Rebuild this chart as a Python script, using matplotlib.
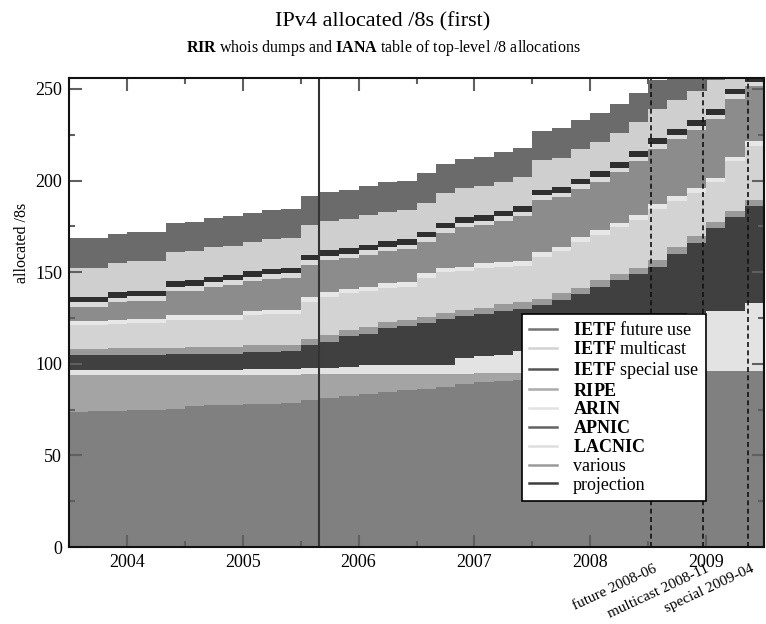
import numpy as np
import matplotlib
matplotlib.use("Agg")
import matplotlib.pyplot as plt
from matplotlib.lines import Line2D
from matplotlib.ticker import MultipleLocator

plt.rcParams['font.family'] = ['Liberation Serif', 'DejaVu Serif']
plt.rcParams['mathtext.fontset'] = 'custom'
plt.rcParams['mathtext.rm'] = 'Liberation Serif'
plt.rcParams['mathtext.bf'] = 'Liberation Serif:bold'

# ---- data (number of /8 blocks per band, bi-monthly steps) ----
months = ["2003-07", "2003-09", "2003-11",
          "2004-01", "2004-03", "2004-05", "2004-07", "2004-09", "2004-11",
          "2005-01", "2005-03", "2005-05", "2005-07", "2005-09", "2005-11",
          "2006-01", "2006-03", "2006-05", "2006-07", "2006-09", "2006-11",
          "2007-01", "2007-03", "2007-05", "2007-07", "2007-09", "2007-11",
          "2008-01", "2008-03", "2008-05", "2008-07", "2008-09", "2008-11",
          "2009-01", "2009-03", "2009-05", "2009-07"]

various = [73.7, 74, 74.3, 74.6, 75, 75.5, 77, 77.3, 77.6, 78, 78.3, 78.8, 80, 81.5,
           82.5, 83.5, 84.5, 85.5, 86.5, 87.5, 89, 90, 90.5, 91, 91.5, 92, 92.5, 93,
           93.5, 94, 94.5, 95, 95.5, 96, 96, 96, 96]
band_b = [20.3, 20, 19.7, 19.4, 19, 18.5, 17, 16.7, 16.4, 16, 15.7, 15.2, 14.5, 13,
          12, 11, 10, 9, 8, 7, 5.5, 5, 4.5, 4, 3.5, 3, 2.5, 2, 1.5, 1, 0.5, 0.5, 0,
          0, 0, 0, 0]
band_c = [2.6, 2.6, 2.8, 2.8, 2.8, 2.8, 2.8, 2.8, 2.8, 3, 3, 3, 3, 3.2, 4, 5, 5, 5,
          5, 5, 8.5, 9, 10, 12, 14, 16, 18, 20, 22, 25, 28, 30.5, 32.5, 33, 33, 37, 37]
band_d = [8.2, 8.2, 8.2, 8.2, 8.2, 8.4, 8.6, 8.7, 8.8, 9.5, 9.5, 10, 12.5, 14.3, 16.5,
          17, 20, 21, 22.5, 25, 23, 23, 24, 23, 23, 24, 25, 27, 28.5, 29, 30, 34, 38,
          45, 51, 53, 56]
band_e = 3.5
band_f = [12.7, 12.7, 13, 13.5, 13.5, 15.3, 15.1, 15, 14.9, 16.5, 17, 16.5, 20.5, 21,
          20, 19.5, 18.5, 18, 21.5, 22, 21, 22, 20.5, 20, 23, 23, 25, 25, 25.5, 26, 28,
          25.5, 24, 21.5, 27, 29.5, 32]
band_g = 2.5
band_h = [7.5, 7.5, 9.5, 10, 10, 13, 13.5, 15.5, 16.5, 16, 17, 17.5, 17.5, 17.5, 16.5,
          17.5, 17.5, 18, 17, 19, 21.5, 20.5, 22.5, 24.5, 28.5, 27, 26.5, 26.5, 27.5,
          29.5, 30.5, 31, 31.5, 32, 31.5, 30, 31.5]
band_i = 2.5
ietf_special = 3
ietf_multicast = 16
ietf_future = 16

band_colors = ['#808080', '#a4a4a4', '#e3e3e3', '#404040', '#9a9a9a', '#d3d3d3',
               '#e7e7e7', '#8c8c8c', '#dadada', '#2f2f2f', '#cfcfcf', '#6b6b6b']

data_line = 2005.66
exhaust_dates = [2008.525, 2008.974, 2009.362]
exhaust_labels = ["future 2008-06", "multicast 2008-11", "special 2009-04"]

year_ticks = [2004, 2005, 2006, 2007, 2008, 2009]

legend_labels = [r"$\mathbf{IETF}$ future use", r"$\mathbf{IETF}$ multicast",
                 r"$\mathbf{IETF}$ special use", r"$\mathbf{RIPE}$", r"$\mathbf{ARIN}$",
                 r"$\mathbf{APNIC}$", r"$\mathbf{LACNIC}$", "various", "projection"]
legend_colors = ['#737373', '#d2d2d2', '#555555', '#ababab', '#e2e2e2', '#636363',
                 '#dedede', '#9a9a9a', '#3e3e3e']

# ---- build ----
t = np.array([int(m[:4]) + (int(m[5:]) - 1) / 12 for m in months])
layers = [various, band_b, band_c, band_d, band_e, band_f, band_g, band_h, band_i,
          ietf_special, ietf_multicast, ietf_future]
stack = np.cumsum([np.broadcast_to(np.asarray(l, float), t.shape) for l in layers], axis=0)

fig = plt.figure(figsize=(7.66, 6.24), dpi=100)
ax = fig.add_axes([69 / 766, 77 / 624, 695 / 766, 469 / 624])

for top, col in reversed(list(zip(stack, band_colors))):
    ax.fill_between(t, 0, top, step='post', facecolor=col, edgecolor='none',
                    linewidth=0, zorder=1)

ax.axvline(data_line, color='#333333', lw=1.5, zorder=3)
for d in exhaust_dates:
    ax.axvline(d, color='#111111', lw=1.2, ls=(0, (3, 2)), zorder=3)

ax.set_xlim(2003.5, 2009.5)
ax.set_ylim(0, 256)
ax.set_xticks(year_ticks)
ax.set_xticklabels([str(y) for y in year_ticks])
ax.xaxis.set_minor_locator(MultipleLocator(0.5))
ax.yaxis.set_major_locator(MultipleLocator(50))
ax.yaxis.set_minor_locator(MultipleLocator(25))
ax.tick_params(which='both', direction='in', top=True, right=True, color='#606060',
               width=1.5, labelsize=13, pad=5)
ax.tick_params(which='major', length=9)
ax.tick_params(which='minor', length=4.5)
for s in ax.spines.values():
    s.set_linewidth(1.5)
    s.set_color('#111111')
    s.set_zorder(4)

for d, lab in zip(exhaust_dates, exhaust_labels):
    ax.annotate(lab, xy=(d, 0), xycoords=('data', 'axes fraction'),
                xytext=(1.5, -11), textcoords='offset points', rotation=25,
                rotation_mode='anchor', ha='right', va='top', fontsize=11)

handles = [Line2D([], [], color=c, lw=1.8) for c in legend_colors]
leg = ax.legend(handles, legend_labels, loc='upper left',
                bbox_to_anchor=((522 - 69) / 695, (546 - 313) / 469),
                fontsize=13, frameon=True, fancybox=False, framealpha=1,
                edgecolor='black', handlelength=1.55, handletextpad=0.85,
                labelspacing=0.1, borderpad=0.4, borderaxespad=0)
leg.get_frame().set_linewidth(1.2)
leg.set_zorder(6)

fig.text(0.5, 1 - 22 / 624, "IPv4 allocated /8s (first)", ha='center', va='center',
         fontsize=16)
fig.text(0.5, 1 - 48 / 624,
         r"$\mathbf{RIR}$ whois dumps and $\mathbf{IANA}$ table of top-level /8 allocations",
         ha='center', va='center', fontsize=11.5)
fig.text(22 / 766, 1 - 243 / 624, "allocated /8s", rotation=90, ha='center',
         va='center', fontsize=11.5)

fig.savefig("out.png", dpi=100)
